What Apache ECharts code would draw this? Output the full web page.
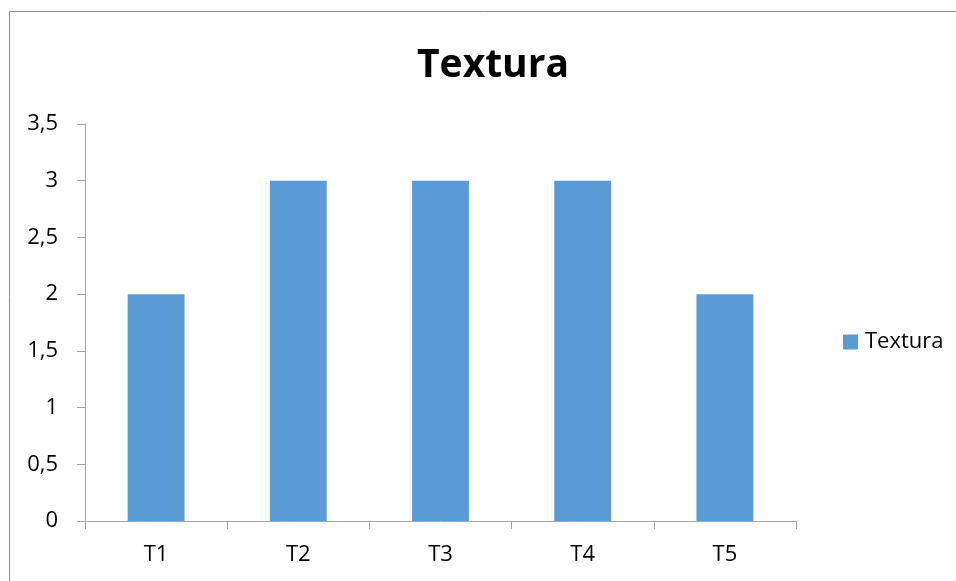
<!DOCTYPE html>
<html>
<head>
<meta charset="utf-8">
<script src="https://cdn.jsdelivr.net/npm/echarts@6/dist/echarts.min.js"></script>
<style>
  html, body { margin: 0; padding: 0; background: #ffffff; }
  #chart { width: 956px; height: 581px; }
</style>
</head>
<body>
<div id="chart"></div>
<script>
// Texture score per treatment
const categories = ['T1', 'T2', 'T3', 'T4', 'T5'];
const texturaValues = [2, 3, 3, 3, 2];
const seriesName = 'Textura';
const yTicks = { min: 0, max: 3.5, step: 0.5 };

const FONT = '"Open Sans", "Noto Sans", sans-serif';
const chart = echarts.init(document.getElementById('chart'), null, { renderer: 'canvas' });

chart.setOption({
  backgroundColor: '#ffffff',
  animation: false,
  title: {
    text: 'Textura',
    left: 488,
    textAlign: 'center',
    top: 41,
    textStyle: { fontFamily: FONT, fontSize: 39, fontWeight: 'bold', color: '#000000' }
  },
  legend: {
    data: [seriesName],
    orient: 'vertical',
    left: 838,
    top: 326,
    itemWidth: 15,
    itemHeight: 15,
    itemGap: 0,
    icon: 'rect',
    textStyle: { fontFamily: FONT, fontSize: 22, color: '#000000', padding: [0, 0, 0, 2] }
  },
  grid: { left: 85, right: 160, top: 124, bottom: 60, containLabel: false },
  xAxis: {
    type: 'category',
    data: categories,
    boundaryGap: true,
    axisLine: { show: true, lineStyle: { color: '#a6a6a6', width: 1 } },
    axisTick: { show: true, length: 8, inside: false, alignWithLabel: false, lineStyle: { color: '#a6a6a6' } },
    axisLabel: { margin: 23, fontFamily: FONT, fontSize: 22, color: '#000000' },
    splitLine: { show: false }
  },
  yAxis: {
    type: 'value',
    min: yTicks.min,
    max: yTicks.max,
    interval: yTicks.step,
    axisLine: { show: true, lineStyle: { color: '#a6a6a6', width: 1 } },
    axisTick: { show: true, length: 8, inside: false, lineStyle: { color: '#a6a6a6' } },
    axisLabel: {
      margin: 27,
      fontFamily: FONT,
      fontSize: 22,
      color: '#000000',
      formatter: v => String(v).replace('.', ',')
    },
    splitLine: { show: false }
  },
  series: [{
    name: seriesName,
    type: 'bar',
    data: texturaValues,
    barWidth: '40%',
    itemStyle: { color: '#5b9bd5' }
  }],
  graphic: [{
    type: 'rect',
    silent: true,
    shape: { x: 9.5, y: 11.5, width: 1000, height: 1000 },
    style: { fill: 'none', stroke: '#8c8c8c', lineWidth: 1 }
  }]
});
</script>
</body>
</html>
